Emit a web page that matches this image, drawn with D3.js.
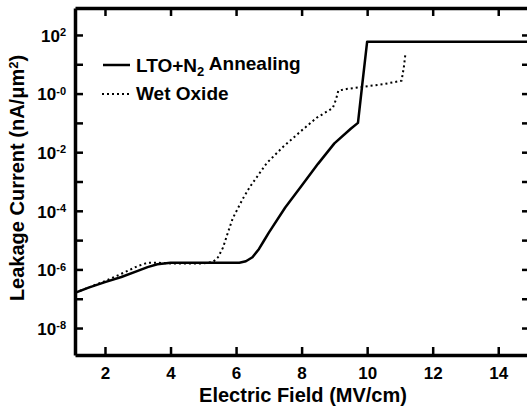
<!doctype html>
<html lang="en">
<head>
  <meta charset="utf-8" />
  <title>Leakage Current vs Electric Field</title>
  <script src="https://d3js.org/d3.v7.min.js"></script>
  <style>
    body { margin: 0; background: #fff; }
    text { font-family: "Liberation Sans", Arial, sans-serif; font-weight: bold; fill: #000; }
  </style>
</head>
<body>
  <div id="chart"></div>
  <script>
    // electric field (MV/cm) and leakage current (nA/um^2)
    const fieldLTO = [1.085, 1.5, 2.0, 2.5, 3.0, 3.3, 3.6, 4.0, 5.0, 6.1, 6.3, 6.5, 6.7, 6.85, 7.0, 7.5, 8.0, 8.5, 9.0, 9.5, 9.72, 9.85, 10.0, 15.0];
    const currentLTO = [1.6e-7, 2.4e-7, 3.7e-7, 5.5e-7, 8.9e-7, 1.2e-6, 1.5e-6, 1.7e-6, 1.7e-6, 1.7e-6, 1.9e-6, 2.6e-6, 5.0e-6, 9.5e-6, 1.8e-5, 1.3e-4, 7.1e-4, 4.0e-3, 2.0e-2, 6.3e-2, 0.1, 2.0, 59, 59];

    const fieldWet = [1.085, 2.0, 2.5, 3.0, 3.3, 3.6, 4.0, 4.5, 5.0, 5.3, 5.45, 5.6, 5.75, 5.9, 6.2, 6.42, 6.7, 6.94, 7.43, 7.95, 8.46, 8.95, 9.05, 9.12, 9.4, 9.87, 10.5, 11.05, 11.12, 11.17];
    const currentWet = [1.6e-7, 4.0e-7, 7.1e-7, 1.3e-6, 1.7e-6, 1.7e-6, 1.6e-6, 1.6e-6, 1.6e-6, 1.8e-6, 2.6e-6, 5.5e-6, 1.8e-5, 5.6e-5, 2.5e-4, 6.5e-4, 1.8e-3, 4.3e-3, 1.5e-2, 4.9e-2, 0.15, 0.32, 0.63, 1.26, 1.45, 1.7, 2.1, 2.75, 7.9, 24];

    const xTicks = [2, 4, 6, 8, 10, 12, 14];
    const yTicks = [1e-8, 1e-7, 1e-6, 1e-5, 1e-4, 1e-3, 1e-2, 1e-1, 1, 10, 100];
    const yLabelTicks = [1e-8, 1e-6, 1e-4, 1e-2, 1, 100];
    const yTickExp = ["-8", "-6", "-4", "-2", "-0", "2"];

    const width = 527, height = 411;
    const plotLeft = 75, plotRight = 531, plotTop = 8, plotBottom = 355;

    const svg = d3.select("#chart").append("svg")
      .attr("width", width)
      .attr("height", height);

    const x = d3.scaleLinear().domain([1.085, 15]).range([plotLeft, plotRight]);
    const y = d3.scaleLog().domain([Math.pow(10, -8.92), Math.pow(10, 2.92)]).range([plotBottom, plotTop]);

    // clip so curves stay inside the frame
    svg.append("clipPath").attr("id", "plot")
      .append("rect").attr("x", plotLeft).attr("y", plotTop)
      .attr("width", plotRight - plotLeft).attr("height", plotBottom - plotTop);

    const line = d3.line()
      .x(d => x(d[0]))
      .y(d => y(d[1]));

    const lto = fieldLTO.map((f, i) => [f, currentLTO[i]]);
    const wet = fieldWet.map((f, i) => [f, currentWet[i]]);

    svg.append("path")
      .datum(wet)
      .attr("clip-path", "url(#plot)")
      .attr("d", line)
      .attr("fill", "none")
      .attr("stroke", "#000")
      .attr("stroke-width", 2)
      .attr("stroke-dasharray", "2,3");

    svg.append("path")
      .datum(lto)
      .attr("clip-path", "url(#plot)")
      .attr("d", line)
      .attr("fill", "none")
      .attr("stroke", "#000")
      .attr("stroke-width", 2.5)
      .attr("stroke-linejoin", "round");

    // axes, all ticks pointing inward
    const bottomAxis = svg.append("g")
      .attr("transform", `translate(0,${plotBottom})`)
      .call(d3.axisBottom(x).tickValues(xTicks).tickSize(-8).tickPadding(12).tickSizeOuter(0));
    bottomAxis.selectAll("text").style("font-size", "17px");

    svg.append("g")
      .attr("transform", `translate(0,${plotTop})`)
      .call(d3.axisTop(x).tickValues(xTicks).tickSize(-8).tickSizeOuter(0).tickFormat(""));

    const leftAxis = svg.append("g")
      .attr("transform", `translate(${plotLeft},0)`)
      .call(d3.axisLeft(y).tickValues(yTicks).tickSize(-8).tickPadding(9).tickSizeOuter(0).tickFormat(""));

    svg.append("g")
      .attr("transform", `translate(${plotRight},0)`)
      .call(d3.axisRight(y).tickValues(yTicks).tickSize(-9).tickSizeOuter(0).tickFormat(""));

    svg.selectAll(".domain").attr("stroke-width", 3.5);
    svg.selectAll(".tick line").attr("stroke-width", 2.5);

    // y tick labels as 10 with superscript
    const yLab = leftAxis.append("g");
    yLabelTicks.forEach((v, i) => {
      const t = yLab.append("text")
        .attr("x", -9)
        .attr("y", y(v))
        .attr("dy", "0.4em")
        .attr("text-anchor", "end")
        .style("font-size", "17px");
      t.append("tspan").text("10");
      t.append("tspan").attr("dy", "-0.5em").style("font-size", "11px").text(yTickExp[i]);
    });

    // axis titles
    svg.append("text")
      .attr("x", 303)
      .attr("y", 402)
      .attr("text-anchor", "middle")
      .style("font-size", "20px")
      .text("Electric Field (MV/cm)");

    const yTitle = svg.append("text")
      .attr("transform", "translate(24,178) rotate(-90)")
      .attr("text-anchor", "middle")
      .style("font-size", "20px");
    yTitle.append("tspan").text("Leakage Current (nA/\u03bcm");
    yTitle.append("tspan").attr("dy", "-0.45em").style("font-size", "13px").text("2");
    yTitle.append("tspan").attr("dy", "0.3em").text(")");

    // legend
    const legend = svg.append("g");
    legend.append("line")
      .attr("x1", 103).attr("x2", 130).attr("y1", 65).attr("y2", 65)
      .attr("stroke", "#000").attr("stroke-width", 2.5);
    const l1 = legend.append("text").attr("x", 136).attr("y", 72).style("font-size", "19px");
    l1.append("tspan").text("LTO+N");
    l1.append("tspan").attr("dy", "0.3em").style("font-size", "13px").text("2");
    l1.append("tspan").attr("dy", "-0.3em").text(" Annealing");

    legend.append("line")
      .attr("x1", 102).attr("x2", 129).attr("y1", 94).attr("y2", 94)
      .attr("stroke", "#000").attr("stroke-width", 2).attr("stroke-dasharray", "2,3");
    legend.append("text").attr("x", 136).attr("y", 100).style("font-size", "19px").text("Wet Oxide");
  </script>
</body>
</html>
